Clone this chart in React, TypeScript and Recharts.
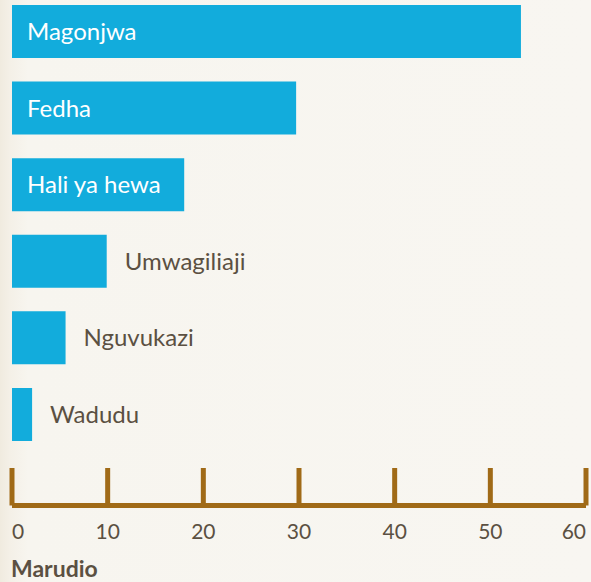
import React from "react";
import { BarChart, Bar, XAxis, YAxis, LabelList } from "recharts";

// Data
const categories = ["Magonjwa", "Fedha", "Hali ya hewa", "Umwagiliaji", "Nguvukazi", "Wadudu"];
const values = [53.2, 29.7, 18, 9.9, 5.6, 2.1];
const xTicks = [0, 10, 20, 30, 40, 50, 60];
const axisTitle = "Marudio";

const BAR_COLOR = "#12acdc";
const AXIS_COLOR = "#a06a17";
const TEXT_COLOR = "#5b5042";
const FONT = "Lato, 'Open Sans', sans-serif";

const data = categories.map((name, i) => ({ name, value: values[i] }));

function AxisTick(props: any) {
  const { x, y, payload } = props;
  const v = payload.value;
  const anchor = v === xTicks[0] ? "start" : v === xTicks[xTicks.length - 1] ? "end" : "middle";
  return (
    <g>
      <line x1={x} x2={x} y1={y - 37.5} y2={y} stroke={AXIS_COLOR} strokeWidth={5} />
      <text x={x} y={y + 33.5} textAnchor={anchor} fill={TEXT_COLOR} fontSize={21} fontFamily={FONT}>
        {v}
      </text>
    </g>
  );
}

function BarLabel(props: any) {
  const { x, y, width, height, value, index } = props;
  const inside = index < 3; // long bars keep the label inside
  const cy = y + height / 2;
  return (
    <text
      x={inside ? x + 15 : x + width + 18}
      y={cy + 8.5}
      fill={inside ? "#ffffff" : TEXT_COLOR}
      fontSize={24}
      fontFamily={FONT}
    >
      {categories[index] ?? value}
    </text>
  );
}

function AxisTitle(props: any) {
  const { viewBox } = props;
  return (
    <text
      x={11}
      y={viewBox.y + 71.5}
      fill={TEXT_COLOR}
      fontSize={23}
      fontWeight={700}
      fontFamily={FONT}
    >
      {axisTitle}
    </text>
  );
}

export default function App() {
  return (
    <div
      style={{
        position: "absolute",
        left: 0,
        top: 0,
        width: 591,
        height: 582,
        overflow: "hidden",
        background: "linear-gradient(to right, #f0ebdf 0px, #f4f0e7 10px, #f7f5ef 28px, #f8f6f1 100%)",
      }}
    >
      <BarChart
        width={591}
        height={582}
        data={data}
        layout="vertical"
        margin={{ top: -7, right: 5, left: 12, bottom: 0 }}
      >
        <YAxis type="category" dataKey="name" hide padding={{ top: 0, bottom: 53 }} />
        <XAxis
          type="number"
          domain={[0, 60]}
          ticks={xTicks}
          interval={0}
          height={76.5}
          tickSize={0}
          tickMargin={0}
          tickLine={false}
          axisLine={{ stroke: AXIS_COLOR, strokeWidth: 5 }}
          tick={<AxisTick />}
          label={<AxisTitle />}
        />
        <Bar dataKey="value" fill={BAR_COLOR} barSize={53} isAnimationActive={false}>
          <LabelList dataKey="value" content={<BarLabel />} />
        </Bar>
      </BarChart>
    </div>
  );
}
